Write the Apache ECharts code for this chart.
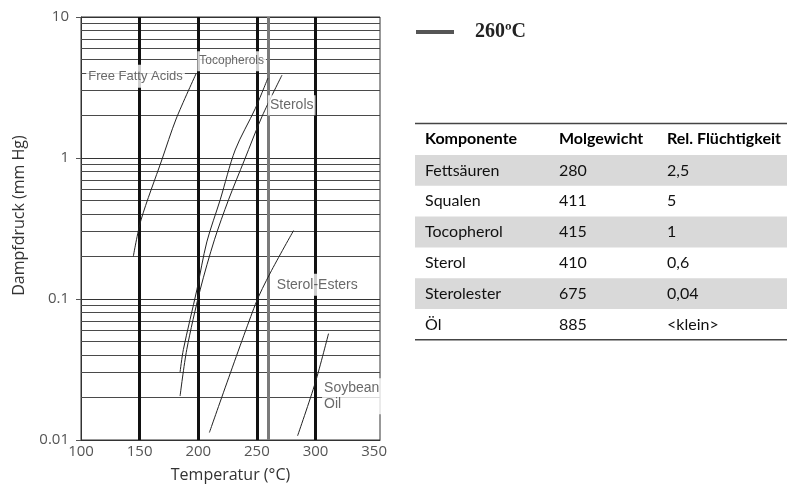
<!DOCTYPE html>
<html><head><meta charset="utf-8">
<script src="https://cdn.jsdelivr.net/npm/echarts@6/dist/echarts.min.js"></script>
<style>html,body{margin:0;padding:0;background:#fff}#c{width:791px;height:488px}</style>
</head><body><div id="c"></div>
<script>
// ---------- chart data ----------
const xTicks = [100, 150, 200, 250, 300, 350];
const yTicks = [0.01, 0.1, 1, 10];
const ffaT   = [144.6, 151.2, 168.9, 181.1, 198.2];
const ffaP   = [0.2, 0.364, 0.968, 1.89, 3.97];
const tocoT  = [184.5, 187.3, 198.8, 207.3, 218.7, 231.5, 248.6, 259.4];
const tocoP  = [0.0303, 0.0438, 0.116, 0.254, 0.505, 1.14, 2.24, 3.69];
const sterT  = [184.5, 190.2, 201.6, 213.8, 225.8, 239.4, 254.5, 271.4];
const sterP  = [0.0205, 0.0438, 0.116, 0.263, 0.505, 0.968, 1.98, 3.87];
const esterT = [209.5, 248.6, 261.4, 281.3];
const esterP = [0.0113, 0.0912, 0.153, 0.306];
const oilT   = [284.7, 299.8, 311.1];
const oilP   = [0.0107, 0.0255, 0.0568];
const boldTemps = [150, 200, 250, 300];
const markerTemp = 260;
const markerName = '260ºC';
const minorP = [0.02, 0.03, 0.04, 0.05, 0.06, 0.07, 0.08, 0.09,
                0.2, 0.3, 0.4, 0.5, 0.6, 0.7, 0.8, 0.9,
                2, 3, 4, 5, 6, 7, 8, 9];
const curveNames = ['Free Fatty Acids', 'Tocopherols', 'Sterols', 'Sterol-Esters', 'Soybean\nOil'];
const labelT = [146.5, 228.5, 279.7, 301.5, 305.2];
const labelP = [3.8, 4.86, 2.37, 0.126, 0.0204];
// ---------- table data ----------
const tableHeader = ['Komponente', 'Molgewicht', 'Rel. Flüchtigkeit'];
const components = ['Fettsäuren', 'Squalen', 'Tocopherol', 'Sterol', 'Sterolester', 'Öl'];
const molWeights = ['280', '411', '415', '410', '675', '885'];
const relVolatility = ['2,5', '5', '1', '0,6', '0,04', '<klein>'];

// ---------- styles ----------
const labelStyles = [
  {fontSize: 13, padding: [5, 2], position: 'inside'},
  {fontSize: 12, padding: [4, 2], position: 'inside'},
  {fontSize: 14, padding: [3, 2], position: 'inside'},
  {fontSize: 14, padding: [4, 2], position: 'inside'},
  {fontSize: 14, padding: [2, 2], position: 'right', distance: 0, align: 'left', lineHeight: 16}
];
const zip = (a, b) => a.map((v, i) => [v, b[i]]);
const curveSeries = [[ffaT, ffaP], [tocoT, tocoP], [sterT, sterP], [esterT, esterP], [oilT, oilP]].map((c, i) => ({
  type: 'line', name: 'curve' + i, data: zip(c[0], c[1]), smooth: 0.3, showSymbol: false, silent: true,
  lineStyle: {color: '#222', width: 1}, z: 3
}));

// table graphics
const tb = {left: 415, right: 787, top: 123.5, headH: 31.5, rowH: 30.8, cols: [425, 559, 667]};
const g = [];
components.forEach((c, i) => {
  const y0 = tb.top + tb.headH + i * tb.rowH;
  if (i % 2 === 0) g.push({type: 'rect', shape: {x: tb.left, y: y0, width: tb.right - tb.left, height: tb.rowH}, style: {fill: '#d9d9d9'}, z: 1});
  [c, molWeights[i], relVolatility[i]].forEach((t, j) => g.push({
    type: 'text', x: tb.cols[j], y: y0 + tb.rowH / 2, z: 2,
    style: {text: t, fontFamily: 'Lato', fontSize: 16, fill: '#111', verticalAlign: 'middle', align: 'left'}
  }));
});
tableHeader.forEach((t, j) => g.push({
  type: 'text', x: tb.cols[j], y: tb.top + tb.headH / 2, z: 2,
  style: {text: t, fontFamily: 'Lato', fontWeight: 'bold', fontSize: 16, fill: '#000', verticalAlign: 'middle', align: 'left'}
}));
const bottomY = tb.top + tb.headH + components.length * tb.rowH;
g.push({type: 'line', shape: {x1: tb.left, y1: tb.top, x2: tb.right, y2: tb.top}, style: {stroke: '#444', lineWidth: 1.5}, z: 3});
g.push({type: 'line', shape: {x1: tb.left, y1: bottomY, x2: tb.right, y2: bottomY}, style: {stroke: '#444', lineWidth: 1.5}, z: 3});

const chart = echarts.init(document.getElementById('c'), null, {renderer: 'canvas'});
chart.setOption({
  animation: false,
  backgroundColor: '#fff',
  grid: {left: 81, top: 17, right: 411, bottom: 47, show: true, borderColor: '#333', borderWidth: 1},
  legend: {
    data: [markerName], left: 416, top: 22, padding: 0, icon: 'rect', itemWidth: 38, itemHeight: 4,
    formatter: '{g|}{t|{name}}',
    textStyle: {rich: {g: {width: 16}, t: {fontFamily: 'Liberation Serif', fontWeight: 'bold', fontSize: 20, color: '#222'}}}
  },
  xAxis: {
    type: 'value', min: xTicks[0], max: 355, interval: 50,
    name: 'Temperatur (°C)', nameLocation: 'middle', nameGap: 27,
    nameTextStyle: {fontFamily: 'Open Sans', fontSize: 16, color: '#333'},
    axisLine: {show: true, lineStyle: {color: '#333', width: 1}},
    axisTick: {show: false},
    splitLine: {show: false},
    axisLabel: {showMaxLabel: false, margin: 4, fontFamily: 'Open Sans', fontSize: 15, color: '#555',
      formatter: v => xTicks.includes(v) ? String(v) : ''}
  },
  yAxis: {
    type: 'log', logBase: 10, min: yTicks[0], max: yTicks[yTicks.length - 1],
    name: 'Dampfdruck (mm Hg)', nameLocation: 'middle', nameGap: 54,
    nameTextStyle: {fontFamily: 'Open Sans', fontSize: 16, color: '#333', padding: [0, 0, 0, 26]},
    axisLine: {show: true, lineStyle: {color: '#333', width: 1}},
    axisTick: {show: true, length: 5, lineStyle: {color: '#555'}},
    splitLine: {show: true, lineStyle: {color: '#333', width: 1}},
    axisLabel: {margin: 12, fontFamily: 'Open Sans', fontSize: 15, color: '#555',
      formatter: v => String(+(+v).toPrecision(3))}
  },
  graphic: {elements: g},
  series: [
    {type: 'line', name: 'grid', data: [], silent: true,
      markLine: {silent: true, z: 1, symbol: ['none', 'none'], label: {show: false},
        lineStyle: {color: '#4a4a4a', width: 1, type: 'solid'},
        data: minorP.map(v => ({yAxis: v}))}},
    {type: 'line', name: 'bold', data: [], silent: true,
      markLine: {silent: true, z: 2, symbol: ['none', 'none'], label: {show: false},
        lineStyle: {color: '#111', width: 3, type: 'solid'},
        data: boldTemps.map(v => ({xAxis: v}))}},
    {type: 'line', name: markerName, data: [], silent: true,
      itemStyle: {color: '#555'}, lineStyle: {color: '#555'},
      markLine: {silent: true, z: 2, symbol: ['none', 'none'], label: {show: false},
        lineStyle: {color: '#7a7a7a', width: 3, type: 'solid'},
        data: [{xAxis: markerTemp}]}},
    ...curveSeries,
    {type: 'scatter', name: 'labels', symbol: 'rect', symbolSize: 1, silent: true, z: 50, zlevel: 2,
      itemStyle: {color: 'rgba(255,255,255,0)'},
      data: curveNames.map((n, i) => ({
        name: n, value: [labelT[i], labelP[i]],
        label: Object.assign({show: true, formatter: '{b}', backgroundColor: '#fff', color: '#444',
          fontFamily: 'Liberation Sans'}, labelStyles[i])
      }))}
  ]
});
</script></body></html>
